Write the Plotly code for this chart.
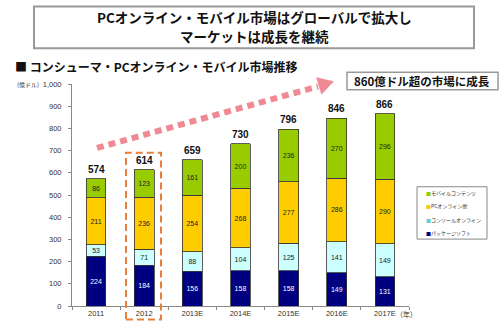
import plotly.graph_objects as go

categories = ["2011", "2012", "2013E", "2014E", "2015E", "2016E", "2017E"]
package_soft = [224, 184, 156, 158, 158, 149, 131]
console_online = [53, 71, 88, 104, 125, 141, 149]
pc_online = [211, 236, 254, 268, 277, 286, 290]
mobile = [86, 123, 161, 200, 236, 270, 296]
totals = [574, 614, 659, 730, 796, 846, 866]
series_names = ["パッケージソフト", "コンソールオンライン", "PCオンライン他", "モバイルコンテンツ"]
y_ticks = [0, 100, 200, 300, 400, 500, 600, 700, 800, 900, 1000]
y_ticklabels = ["0", "100", "200", "300", "400", "500", "600", "700", "800", "900", "1,000"]

colors = ["#000080", "#ccffff", "#ffcc00", "#99cc00"]
textcolors = ["#ffffff", "#222222", "#222222", "#222222"]
FONT = "Noto Sans CJK JP"

L, R, T, B = 72, 409, 84, 313
W, H = 500, 330

def px(x):
    return (x - L) / (R - L)

def py(y):
    return (B - y) / (B - T)

fig = go.Figure()
for name, vals, c, tc in zip(series_names, [package_soft, console_online, pc_online, mobile], colors, textcolors):
    fig.add_trace(go.Bar(
        x=categories, y=vals, name=name,
        marker=dict(color=c, line=dict(color="#333333", width=0.8)),
        text=vals, textposition="inside", insidetextanchor="middle",
        textangle=0, constraintext="none",
        textfont=dict(size=7, color=tc, family="Liberation Sans"),
        showlegend=False,
    ))

annotations = []
for i, t in enumerate(totals):
    annotations.append(dict(x=i, y=t, xref="x", yref="y", text=f"<b>{t}</b>", showarrow=False,
                            xanchor="center", yanchor="bottom", yshift=2,
                            font=dict(size=10, color="#111", family="Liberation Sans")))

def note(x, y, text, size, anchor="center", color="#111"):
    return dict(x=px(x), y=py(y), xref="paper", yref="paper", showarrow=False,
                xanchor=anchor, yanchor="middle", text=text,
                font=dict(size=size, color=color, family=FONT))

annotations += [
    note(254, 15, "<b>PCオンライン・モバイル市場はグローバルで拡大し</b>", 13.5),
    note(254, 35, "<b>マーケットは成長を継続</b>", 13.5),
    note(13, 66, "<b>■ コンシューマ・PCオンライン・モバイル市場推移</b>", 12, "left"),
    note(28, 84, "(億ドル)", 6, color="#333"),
    note(406, 321, "（年）", 7, color="#333"),
    note(422, 81, "<b>860億ドル超の市場に成長</b>", 11.5),
]

# manual legend
leg_y = [196, 210, 224, 237]
for yy, name, c in zip(leg_y, reversed(series_names), reversed(colors)):
    mc = c if c != "#ccffff" else "#66cccc"
    annotations.append(note(424, yy, f"<span style='color:{mc}'>■</span>{name}", 5, "left", "#333"))

shapes = [
    dict(type="rect", xref="paper", yref="paper", x0=px(34), x1=px(474), y0=py(47), y1=py(4),
         line=dict(color="#999999", width=2)),
    dict(type="rect", xref="paper", yref="paper", x0=px(347), x1=px(498), y0=py(90), y1=py(72),
         line=dict(color="#999999", width=1.5)),
    dict(type="rect", xref="paper", yref="paper", x0=px(417), x1=px(487), y0=py(244), y1=py(190),
         line=dict(color="#888888", width=1)),
    dict(type="line", xref="paper", yref="paper", x0=px(97), y0=py(150), x1=px(318), y1=py(86.5),
         line=dict(color="#ef8a94", width=6, dash="7px,5px")),
    dict(type="path", xref="paper", yref="paper",
         path=f"M {px(333.5)},{py(81.5)} L {px(321.5)},{py(94.6)} L {px(316.5)},{py(77.4)} Z",
         fillcolor="#ef8a94", line=dict(color="#ef8a94", width=0.5)),
    dict(type="rect", xref="paper", yref="paper", x0=px(126), x1=px(161), y0=py(327), y1=py(155),
         line=dict(color="#e8803a", width=2, dash="7px,4px")),
]

fig.update_layout(
    width=W, height=H, barmode="stack", bargap=0.59,
    margin=dict(l=L, r=W - R, t=T, b=H - B, pad=0),
    paper_bgcolor="white", plot_bgcolor="white",
    font=dict(family=FONT, color="#222"),
    annotations=annotations, shapes=shapes,
    xaxis=dict(type="category", range=[-0.5, 6.5], showline=True, linecolor="#888", linewidth=1,
               ticks="outside", tickson="boundaries", ticklen=3, tickcolor="#888",
               tickfont=dict(size=7.5, family="Liberation Sans", color="#333"), showgrid=False),
    yaxis=dict(range=[0, 1000], tickvals=y_ticks, ticktext=y_ticklabels, showline=True, linecolor="#888",
               linewidth=1, ticks="outside", ticklen=3, tickcolor="#888", showgrid=False, zeroline=False,
               ticklabelstandoff=5, tickfont=dict(size=7.5, family="Liberation Sans", color="#333")),
)

fig.write_html("out.html")
